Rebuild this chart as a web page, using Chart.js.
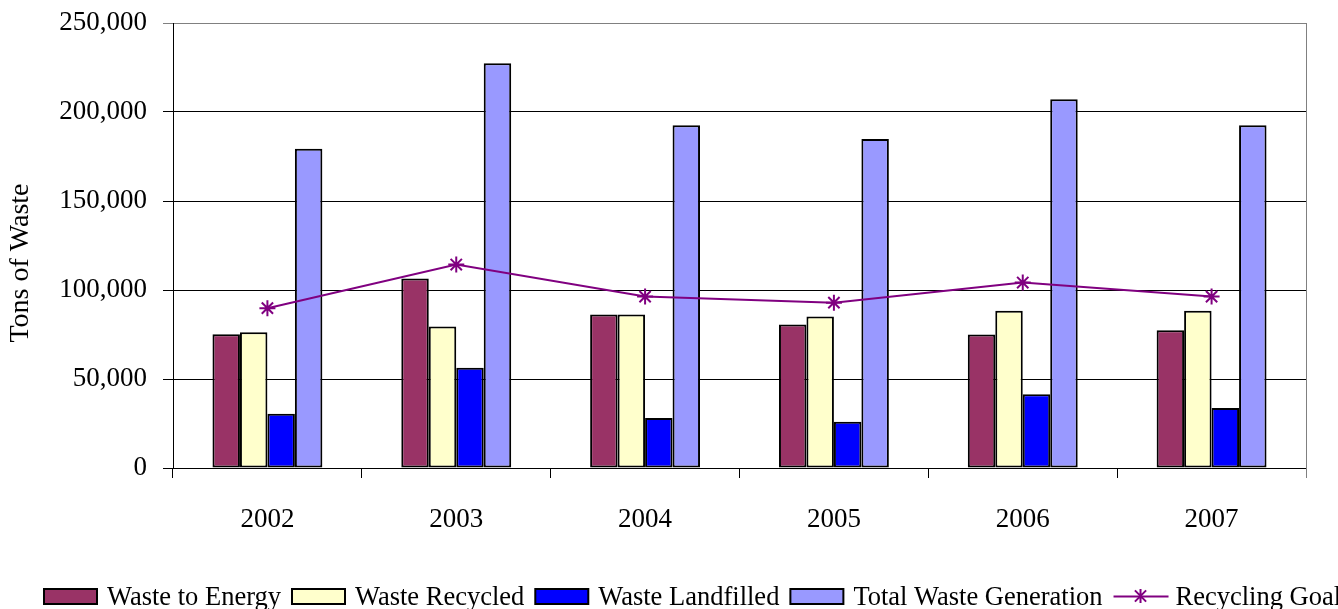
<!DOCTYPE html>
<html>
<head>
<meta charset="utf-8">
<script src="https://cdn.jsdelivr.net/npm/chart.js@4/dist/chart.umd.min.js"></script>
<style>
    html, body { margin: 0; padding: 0; background: #fff; }
    #wrap { width: 1338px; height: 609px; position: relative; }
</style>
</head>
<body>
<div id="wrap"><canvas id="chart"></canvas></div>
<script>
var years = ['2002', '2003', '2004', '2005', '2006', '2007'];
var wasteToEnergy = [75200, 106400, 86200, 80600, 75000, 77400];
var wasteRecycled = [76300, 79500, 86200, 85100, 88400, 88400];
var wasteLandfilled = [30500, 56300, 28100, 26000, 41500, 33700];
var totalGeneration = [179300, 227400, 192600, 184800, 207100, 192600];
var recyclingGoal = [89800, 114300, 96300, 92900, 104200, 96300];
var yTicks = [0, 50000, 100000, 150000, 200000, 250000];

var serif = 'Liberation Serif';

function drawStar(ctx, x, y, r) {
    ctx.beginPath();
    ctx.moveTo(x, y - r);
    ctx.lineTo(x, y + r);
    var d = r * 0.8;
    ctx.moveTo(x - d, y - d);
    ctx.lineTo(x + d, y + d);
    ctx.moveTo(x - d, y + d);
    ctx.lineTo(x + d, y - d);
    ctx.stroke();
}

// excel style legend + gray plot border on the right
var legendPlugin = {
    id: 'excelLegend',
    afterDraw: function (chart) {
        var ctx = chart.ctx;
        var area = chart.chartArea;
        ctx.save();
        ctx.strokeStyle = '#808080';
        ctx.lineWidth = 1;
        ctx.beginPath();
        ctx.moveTo(area.right + 0.5, area.top);
        ctx.lineTo(area.right + 0.5, area.bottom + 10);
        ctx.stroke();

        ctx.font = '26.5px "' + serif + '"';
        ctx.textBaseline = 'alphabetic';
        ctx.fillStyle = '#000';
        var x = 44;
        var yMid = 596;
        chart.data.datasets.forEach(function (ds) {
            if (ds.type === 'line') {
                ctx.strokeStyle = ds.borderColor;
                ctx.lineWidth = 2;
                ctx.beginPath();
                ctx.moveTo(x, yMid + 0.5);
                ctx.lineTo(x + 55, yMid + 0.5);
                ctx.stroke();
                drawStar(ctx, x + 27, yMid, 7);
                x += 62;
            } else {
                ctx.fillStyle = ds.backgroundColor;
                ctx.fillRect(x, yMid - 7, 53, 15);
                ctx.strokeStyle = '#000';
                ctx.lineWidth = 2;
                ctx.strokeRect(x, yMid - 7, 53, 15);
                x += 63;
            }
            ctx.fillStyle = '#000';
            ctx.fillText(ds.label, x, 605);
            x += ctx.measureText(ds.label).width + 11;
        });
        ctx.restore();
    }
};

var barStyle = {
    borderColor: '#000000',
    borderWidth: 2,
    borderSkipped: false,
    categoryPercentage: 0.582,
    barPercentage: 1.0
};

var ctx = document.getElementById('chart').getContext('2d');
new Chart(ctx, {
    type: 'bar',
    data: {
        labels: years,
        datasets: [
            Object.assign({ label: 'Waste to Energy', data: wasteToEnergy, backgroundColor: '#993366', order: 2 }, barStyle),
            Object.assign({ label: 'Waste Recycled', data: wasteRecycled, backgroundColor: '#FFFFCC', order: 2 }, barStyle),
            Object.assign({ label: 'Waste Landfilled', data: wasteLandfilled, backgroundColor: '#0000FF', order: 2 }, barStyle),
            Object.assign({ label: 'Total Waste Generation', data: totalGeneration, backgroundColor: '#9999FF', order: 2 }, barStyle),
            {
                type: 'line',
                label: 'Recycling Goal',
                data: recyclingGoal,
                borderColor: '#800080',
                backgroundColor: '#800080',
                borderWidth: 2,
                pointStyle: 'star',
                pointRadius: 8,
                pointBorderWidth: 2,
                pointBorderColor: '#800080',
                tension: 0,
                fill: false,
                order: 1
            }
        ]
    },
    options: {
        responsive: true,
        maintainAspectRatio: false,
        animation: false,
        events: [],
        layout: {
            padding: { top: 23, right: 32, left: 0, bottom: 81 }
        },
        plugins: {
            legend: { display: false },
            tooltip: { enabled: false }
        },
        scales: {
            x: {
                offset: true,
                grid: {
                    offset: true,
                    drawOnChartArea: false,
                    drawTicks: true,
                    tickLength: 10,
                    color: '#000'
                },
                border: { color: '#000', width: 1 },
                ticks: {
                    color: '#000',
                    padding: 26,
                    font: { family: serif, size: 27 }
                },
                afterFit: function (scale) {
                    scale.height = 60;
                    scale.paddingLeft = 0;
                    scale.paddingRight = 0;
                }
            },
            y: {
                min: 0,
                max: 250000,
                afterBuildTicks: function (scale) {
                    scale.ticks = yTicks.map(function (v) { return { value: v }; });
                },
                grid: {
                    color: function (c) { return c.tick && c.tick.value === 250000 ? '#808080' : '#000'; },
                    lineWidth: 1,
                    tickLength: 10,
                    drawTicks: true
                },
                border: { color: '#000', width: 1 },
                ticks: {
                    color: '#000',
                    padding: 16,
                    font: { family: serif, size: 27 },
                    callback: function (v) { return v.toLocaleString('en-US'); }
                },
                title: {
                    display: true,
                    text: 'Tons of Waste     ',
                    color: '#000',
                    font: { family: serif, size: 28 },
                    padding: { top: 4, bottom: 0 }
                },
                afterFit: function (scale) {
                    scale.width = 173;
                    scale.paddingTop = 0;
                    scale.paddingBottom = 0;
                }
            }
        }
    },
    plugins: [legendPlugin]
});
</script>
</body>
</html>
